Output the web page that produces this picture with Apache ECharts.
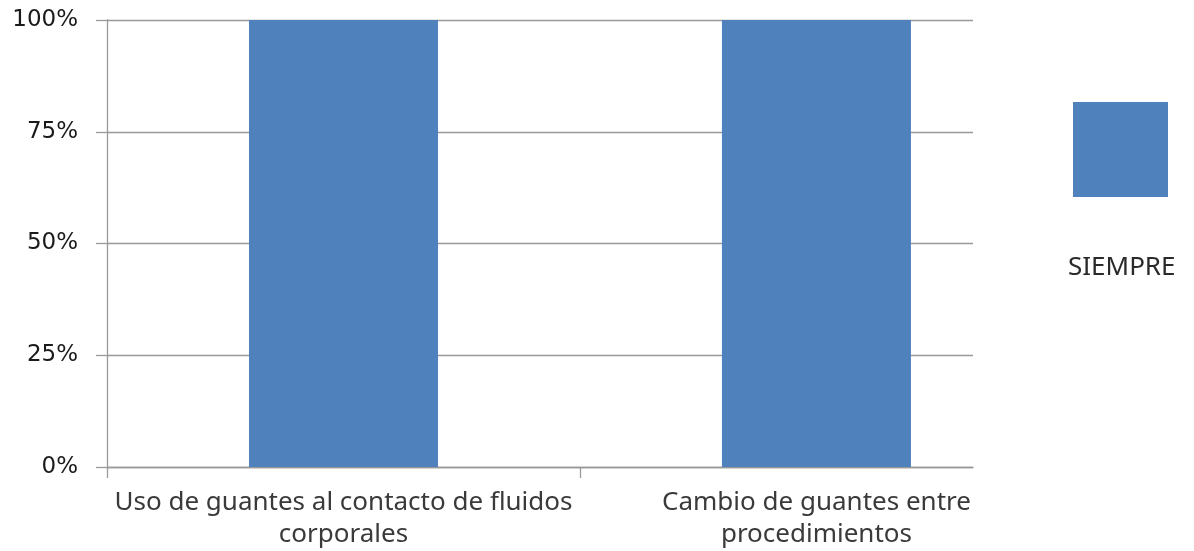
<!DOCTYPE html>
<html>
<head>
<meta charset="utf-8">
<script src="https://cdn.jsdelivr.net/npm/echarts@6/dist/echarts.min.js"></script>
<style>html,body{margin:0;padding:0;background:#fff}#c{width:1194px;height:551px}</style>
</head>
<body>
<div id="c"></div>
<script>
const categories = ['Uso de guantes al contacto de fluidos\ncorporales', 'Cambio de guantes entre\nprocedimientos'];
const seriesName = 'SIEMPRE';
const values = [1, 1];
const yTicks = [0, 0.25, 0.5, 0.75, 1];

const chart = echarts.init(document.getElementById('c'));
chart.setOption({
  animation: false,
  grid: { left: 107, right: 221, top: 20, bottom: 84 },
  legend: {
    left: 1073, top: 102, itemWidth: 95, itemHeight: 95, icon: 'rect',
    selectedMode: false, padding: 0,
    data: [seriesName],
    formatter: () => ''
  },
  graphic: [{
    type: 'text', left: 1068, top: 255,
    style: { text: seriesName, fontFamily: 'Noto Sans', fontSize: 26, fill: '#2a2a2a' }
  }],
  xAxis: {
    type: 'value', min: -0.5, max: 1.331,
    splitLine: { show: false },
    axisLine: { show: true, onZero: false, lineStyle: { color: '#999', width: 1.3 } },
    axisTick: { show: true, length: 11, customValues: [-0.5, 0.5], lineStyle: { color: '#999', width: 1.3 } },
    axisLabel: {
      customValues: categories.map((c, i) => i),
      formatter: v => categories[Math.round(v)] || '',
      fontFamily: 'Noto Sans', fontSize: 26, color: '#3a3a3a', lineHeight: 32, margin: 20
    }
  },
  yAxis: {
    type: 'value', min: 0, max: 1, interval: 0.25,
    axisLine: { show: true, onZero: false, lineStyle: { color: '#999', width: 1.3 } },
    axisTick: { show: true, length: 11, lineStyle: { color: '#999', width: 1.3 } },
    splitLine: { show: true, lineStyle: { color: '#999', width: 1.3 } },
    axisLabel: {
      customValues: yTicks,
      formatter: v => Math.round(v * 100) + '%',
      fontFamily: 'DejaVu Sans', fontSize: 23, color: '#1a1a1a', margin: 29
    }
  },
  series: [{
    name: seriesName, type: 'bar', barWidth: 189,
    itemStyle: { color: '#4f81bd' },
    data: values.map((v, i) => [i, v])
  }]
});
</script>
</body>
</html>
